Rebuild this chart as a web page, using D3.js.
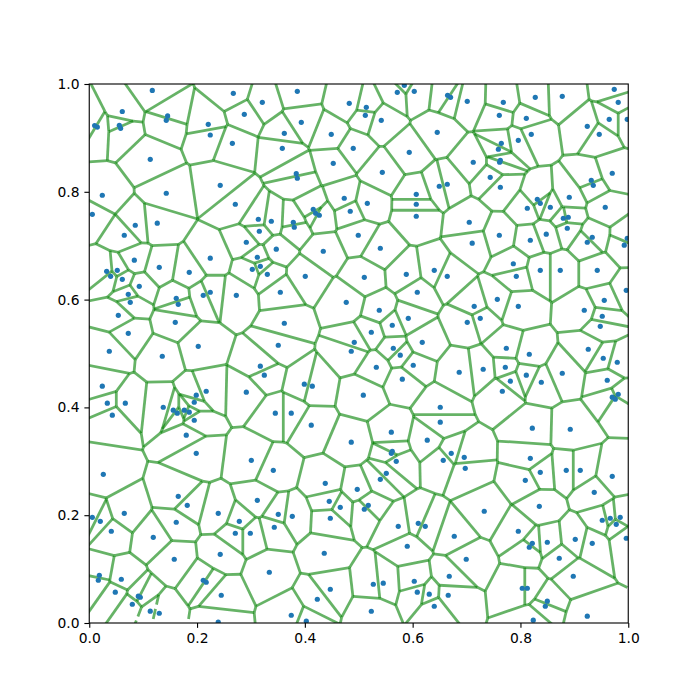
<!DOCTYPE html>
<html><head><meta charset="utf-8">
<style>html,body{margin:0;padding:0;background:#fff}</style>
<script src="https://cdn.jsdelivr.net/npm/d3@7"></script></head>
<body><div id="chart"></div>
<script>
const xValues = [
.117,.0613,.010,.015,.0558,.0582,.1454,.1429,.2208,.2245,.1132,.2430,.0242,.1429,.0057,.1262,.0854,.0650,.0836,.2245,
.2673,.3860,.3211,.4824,.2877,.3934,.3619,.4490,.2655,.3582,.4898,.4527,.3841,.3860,.2710,.4731,.4842,.4156,.4200,.4268,.3137,.3378,.3786,.3804,.3155,.4991,.2914,.3470,.4342,.3118,
.5845,.5715,.6030,.6648,.6704,.7013,.5140,.5122,.5418,.6456,.5937,.5437,.7124,.7439,.6494,.6642,.6067,.6067,.6067,.5159,.7050,.7105,.5400,
.9740,.8275,.8776,.7682,.9814,.7608,.8109,.9647,.9981,.9240,.9462,.8201,.7960,.7645,.7590,.7627,.7614,.9703,.9314,.9351,.7627,.8906,.8313,.8368,.8127,.8554,.9573,.8795,.8887,.8869,.7608,.8479,.8183,.9332,.9240,.9981,.9926,.7868,
.0323,.0520,.0397,.0613,.1299,.1855,.0928,.0724,.0761,.2245,.2115,.1614,.1651,.0539,.1596,.0724,.0372,.2022,.1355,.0242,.2170,.1985,.1948,.0335,.0669,.1373,.1559,.1633,.1763,.1855,.0428,.1948,.1800,
.3025,.3174,.3304,.4008,.2729,.3545,.4768,.3619,.4917,.4861,.3507,.3174,.3248,.3990,.4138,.2914,.3452,.3748,.4119,.4861,
.5103,.5882,.6401,.6642,.6086,.7142,.7013,.7254,.5381,.5919,.5622,.5233,.6178,.5641,.5770,.5326,.6011,.5808,.6864,.7309,.5085,.6512,.6512,.5604,.6271,
.8368,.8739,.9425,.7923,.9963,.7571,.7960,.9555,.9184,.9518,.9481,.7738,.8164,.9258,.9536,.9796,.7719,.8109,.8776,.7812,.8387,.9610,.7664,.9814,.9703,.9759,.8220,.8924,
.1985,.0261,.1651,.1818,.2393,.0057,.0205,.0650,.1614,.0409,.1188,.2430,.1577,.0187,.0168,.0595,.2115,.2170,.0483,.2449,.0910,.0947,.0799,.1132,.1299,.2393,
.3007,.3415,.4379,.4972,.3118,.4453,.4657,.3507,.3767,.4472,.3433,.2784,.2710,.2988,.4360,.3341,.4472,.4231,.3748,.4027,
.5622,.5604,.6716,.6957,.6568,.5696,.6976,.5511,.5400,.5177,.5103,.7328,.6104,.6234,.5733,.6772,.5900,.6994,.6679,.6030,.5270,.5455,.6086,.6308,.6660,.6401,.5233,
.8183,.8368,.8850,.9110,.9703,.8090,.9369,.8350,.9518,.9666,.9851,.9777,.9963,.7960,.8498,.8220,.8164,.9017,.9332,.8720,.8980,.8034,.8127,.8498,.8461,.9240,.8238
];
const yValues = [
.988,.949,.923,.920,.9233,.9178,.9407,.9326,.9252,.9054,.8603,.8121,.7936,.7973,.7583,.7417,.7379,.7194,.6731,.6768,
.9827,.9864,.9660,.9641,.9437,.9289,.9085,.9067,.8900,.8807,.8807,.8529,.8337,.8251,.7769,.7880,.7639,.7676,.7602,.7565,.7491,.7454,.7435,.7342,.7268,.7194,.7064,.6935,.6897,.6786,
.9975,.9845,.9864,.9790,.9753,.9678,.9567,.9419,.9326,.9104,.8733,.8362,.8548,.8269,.8103,.8140,.7954,.7769,.7546,.7787,.7435,.7046,.6953,
.9901,.9753,.9771,.9660,.9660,.9419,.9363,.9345,.9345,.9215,.9067,.9067,.8955,.8900,.8789,.8585,.8548,.8344,.8214,.8121,.8084,.7899,.7862,.7787,.7695,.7713,.7713,.7509,.7528,.7324,.7194,.7213,.7101,.7157,.7064,.7138,.7009,.6665,
.6525,.6543,.6432,.6377,.6599,.6506,.6247,.6098,.5950,.6136,.6080,.6024,.5913,.5709,.5579,.5375,.5042,.5134,.4949,.4393,.4300,.4226,.4096,.4078,.4078,.4003,.3948,.3892,.3948,.3911,.3855,.3762,.3484,
.6562,.6618,.6469,.6432,.6080,.6136,.5950,.5561,.5208,.5042,.5153,.4764,.4597,.4430,.4393,.4282,.3892,.3892,.3670,.3354,
.6414,.6469,.6543,.6432,.6136,.5876,.5579,.5653,.5802,.5653,.5524,.5394,.5208,.5097,.4968,.4745,.4782,.4523,.4652,.4708,.4226,.4003,.3725,.3540,.3392,
.6543,.6543,.6543,.6432,.6173,.6006,.5876,.5987,.5802,.5691,.5505,.5097,.4986,.5079,.4912,.4838,.4745,.4597,.4634,.4486,.4467,.4504,.4300,.4244,.4189,.4152,.3614,.3595,
.3148,.2758,.2351,.2184,.2035,.1961,.1887,.2035,.1869,.1702,.1590,.1275,.1183,.0886,.0793,.0812,.0793,.0756,.0571,.0515,.0497,.0478,.0348,.0219,.0181,.0015,
.3018,.2833,.2592,.2480,.2276,.2258,.2147,.2017,.1980,.1943,.1776,.1887,.1665,.1665,.1294,.0942,.0626,.0441,.0144,.0033,
.3185,.3148,.3148,.3074,.3018,.2999,.2870,.2777,.2666,.2184,.2110,.2073,.1850,.1794,.1794,.1609,.1424,.1183,.0867,.0775,.0719,.0738,.0571,.0534,.0515,.0311,.0218,
.3055,.2796,.2833,.2833,.2721,.2647,.2425,.2165,.1906,.1943,.1961,.1831,.1572,.1702,.1498,.1479,.1405,.1553,.1479,.1201,.0867,.0645,.0645,.0404,.0311,.0126,.0052
];
const tickValues = [0, 0.2, 0.4, 0.6, 0.8, 1.0];

const W = 700, H = 700, L = 89.25, R = 628.25, T = 84, B = 623;
const x = d3.scaleLinear().domain([0, 1]).range([L, R]);
const y = d3.scaleLinear().domain([0, 1]).range([B, T]);
const svg = d3.select("#chart").append("svg").attr("width", W).attr("height", H)
  .style("display", "block").style("background", "#fff");
svg.append("defs").append("clipPath").attr("id", "plot").append("rect")
  .attr("x", L).attr("y", T).attr("width", R - L).attr("height", B - T);

const pts = xValues.map((v, i) => [v, yValues[i]]);
const del = d3.Delaunay.from(pts);
const cc = del.voronoi([-5, -5, 6, 6]).circumcenters;
const centre = [d3.mean(xValues), d3.mean(yValues)];
const finite = [], infinite = [];
const {triangles, halfedges} = del;
for (let e = 0; e < halfedges.length; e++) {
  const j = halfedges[e];
  const ti = Math.floor(e / 3);
  const a = [cc[2 * ti], cc[2 * ti + 1]];
  if (j > e) {
    const tj = Math.floor(j / 3);
    finite.push([a, [cc[2 * tj], cc[2 * tj + 1]]]);
  } else if (j === -1) {
    const p = pts[triangles[e]], q = pts[triangles[e % 3 === 2 ? e - 2 : e + 1]];
    const dx = q[0] - p[0], dy = q[1] - p[1], len = Math.hypot(dx, dy);
    const n = [-dy / len, dx / len];
    const mid = [(p[0] + q[0]) / 2, (p[1] + q[1]) / 2];
    const s = Math.sign((mid[0] - centre[0]) * n[0] + (mid[1] - centre[1]) * n[1]);
    infinite.push([a, [a[0] + s * n[0], a[1] + s * n[1]]]);
  }
}

const plot = svg.append("g").attr("clip-path", "url(#plot)");
const seg = d => d3.line().x(p => x(p[0])).y(p => y(p[1]))(d);
plot.selectAll(".ridge").data(finite).join("path").attr("class", "ridge")
  .attr("d", seg).attr("fill", "none").attr("stroke", "#008000")
  .attr("stroke-opacity", 0.6).attr("stroke-width", 2.78);
plot.selectAll(".far").data(infinite).join("path").attr("class", "far")
  .attr("d", seg).attr("fill", "none").attr("stroke", "#008000")
  .attr("stroke-opacity", 0.6).attr("stroke-width", 2.78)
  .attr("stroke-dasharray", "10.3 4.4");
plot.selectAll("circle").data(pts).join("circle")
  .attr("cx", d => x(d[0])).attr("cy", d => y(d[1])).attr("r", 2.6).attr("fill", "#1f77b4");

const fmt = d3.format(".1f");
const xAxis = svg.append("g").attr("transform", `translate(0,${B})`)
  .call(d3.axisBottom(x).tickValues(tickValues).tickFormat(fmt).tickSize(4.86).tickPadding(4.9));
const yAxis = svg.append("g").attr("transform", `translate(${L},0)`)
  .call(d3.axisLeft(y).tickValues(tickValues).tickFormat(fmt).tickSize(4.86).tickPadding(4.9));
[xAxis, yAxis].forEach(a => {
  a.select(".domain").remove();
  a.selectAll("line").attr("stroke", "#000").attr("stroke-width", 1.11);
  a.selectAll("text").attr("fill", "#000").style("font-family", "'DejaVu Sans'").style("font-size", "13.89px");
});
svg.append("rect").attr("x", L).attr("y", T).attr("width", R - L).attr("height", B - T)
  .attr("fill", "none").attr("stroke", "#000").attr("stroke-width", 1.11);
</script></body></html>
